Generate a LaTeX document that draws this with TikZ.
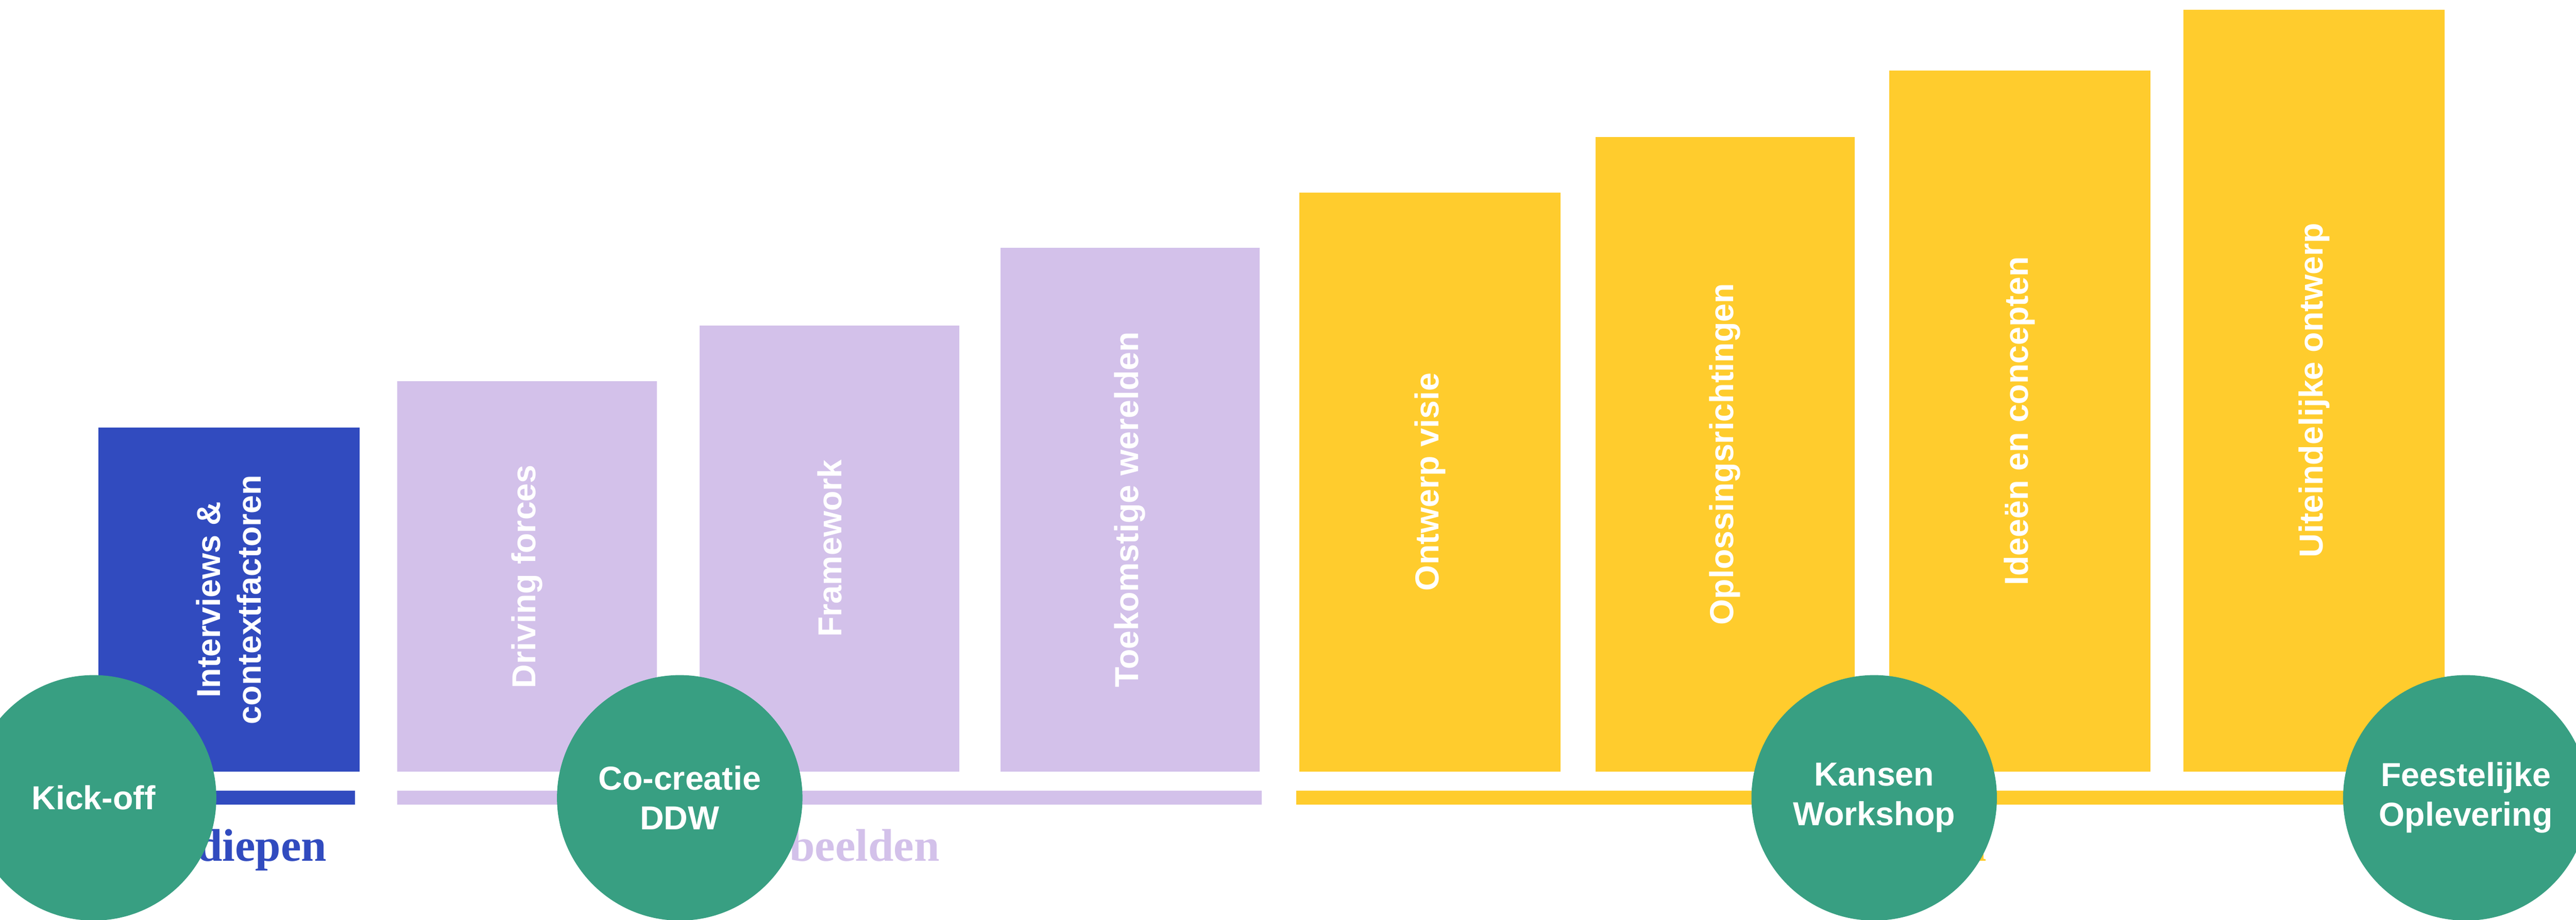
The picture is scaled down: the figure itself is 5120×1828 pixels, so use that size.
\documentclass[tikz,border=0pt]{standalone}
\usepackage{fontspec}
\setmainfont{Liberation Sans}
\newfontfamily\phasefont{Liberation Serif}
\definecolor{phaseblue}{RGB}{49,75,191}
\definecolor{phaselilac}{RGB}{211,193,234}
\definecolor{phaseyellow}{RGB}{255,204,45}
\definecolor{milestonegreen}{RGB}{56,159,130}

\begin{document}
\begin{tikzpicture}[x=0.02cm, y=-0.02cm,
	steplabel/.style={text=white, rotate=90, align=center, inner sep=0pt,
		font=\fontsize{37.6}{46}\selectfont\bfseries},
	phaselabel/.style={anchor=base, font=\fontsize{51.8}{60}\selectfont\phasefont\bfseries},
	milestone/.style={circle, fill=milestonegreen, minimum size=9.76cm, inner sep=0pt,
		text=white, align=center, font=\fontsize{37.6}{45}\selectfont\bfseries}]
				\useasboundingbox (0,0) rectangle (5120,1828);
				
				% stappen
				\fill[phaseblue] (196,850) rectangle (715,1534);
				\node[steplabel] (interviews) at (455,1192) {Interviews \&\\contextfactoren};
				
				\fill[phaselilac] (790,758) rectangle (1306,1534);
				\node[steplabel] (driving) at (1048,1146) {Driving forces};
				\fill[phaselilac] (1391,647) rectangle (1907,1534);
				\node[steplabel] (framework) at (1649,1090) {Framework};
				\fill[phaselilac] (1989,493) rectangle (2504,1534);
				\node[steplabel] (werelden) at (2246,1013) {Toekomstige werelden};
				
				\fill[phaseyellow] (2583,383) rectangle (3102,1534);
				\node[steplabel] (visie) at (2842,958) {Ontwerp visie};
				\fill[phaseyellow] (3171,272) rectangle (3686,1534);
				\node[steplabel] (richtingen) at (3428,903) {Oplossingsrichtingen};
				\fill[phaseyellow] (3755,140) rectangle (4274,1534);
				\node[steplabel] (concepten) at (4014,837) {Ideeën en concepten};
				\fill[phaseyellow] (4340,19) rectangle (4859,1534);
				\node[steplabel] (ontwerp) at (4600,776) {Uiteindelijke ontwerp};
				
				% fases
				\fill[phaseblue] (196,1572) rectangle (706,1599);
				\fill[phaselilac] (790,1572) rectangle (2508,1599);
				\fill[phaseyellow] (2576,1572) rectangle (4859,1599);
				\node[phaselabel, text=phaseblue] (verdiepen) at (451,1712) {Verdiepen};
				\node[phaselabel, text=phaselilac] (verbeelden) at (1649,1712) {Verbeelden};
				\node[phaselabel, text=phaseyellow] (ontwerpen) at (3728,1712) {Ontwerpen};
				
				% momenten
				\node[milestone] (kickoff) at (186,1586) {Kick-off};
				\node[milestone] (cocreatie) at (1351,1586) {Co-creatie\\DDW};
				\node[milestone] (kansen) at (3725,1586) {Kansen\\Workshop};
				\node[milestone] (oplevering) at (4901,1586) {Feestelijke\\Oplevering};
			\end{tikzpicture}
\end{document}
